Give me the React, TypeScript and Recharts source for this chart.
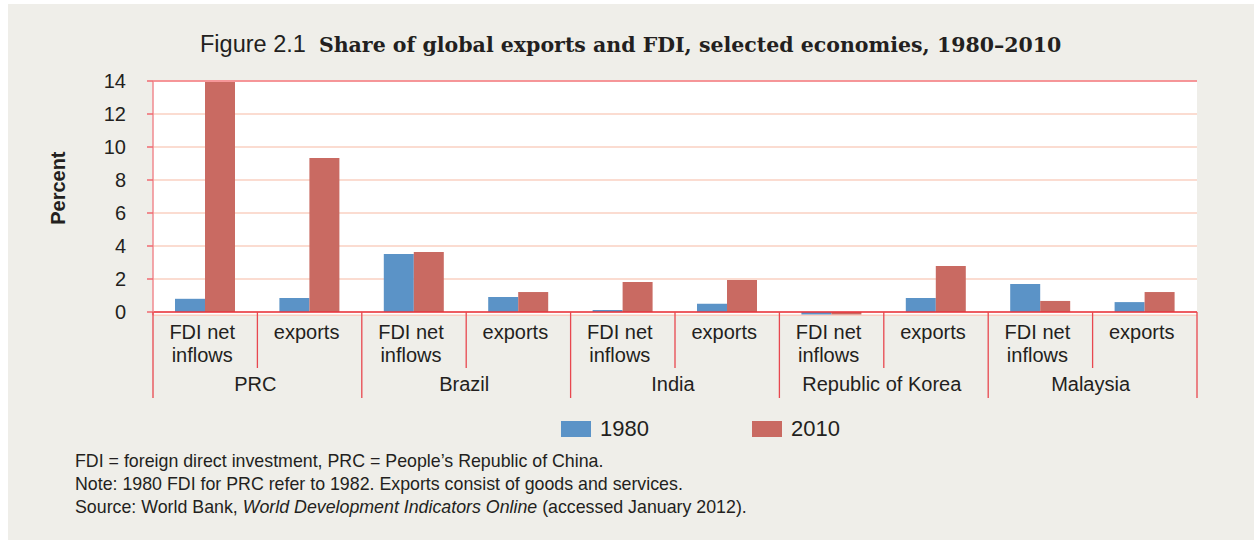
import React from 'react';
import { BarChart, Bar, XAxis, YAxis, CartesianGrid, Legend, ReferenceLine } from 'recharts';

const countries = ['PRC', 'Brazil', 'India', 'Republic of Korea', 'Malaysia'];
const measures = ['FDI net inflows', 'exports'];
const measureLines = [['FDI net', 'inflows'], ['exports']];
const values1980 = [0.8, 0.85, 3.52, 0.91, 0.12, 0.5, -0.15, 0.85, 1.7, 0.6];
const values2010 = [13.94, 9.33, 3.64, 1.21, 1.82, 1.94, -0.15, 2.79, 0.67, 1.21];
const yTicks = [0, 2, 4, 6, 8, 10, 12, 14];
const seriesNames = ['1980', '2010'];
const notes = [
  'FDI = foreign direct investment, PRC = People\u2019s Republic of China.',
  'Note: 1980 FDI for PRC refer to 1982. Exports consist of goods and services.',
];

const data = values1980.map((v, i) => ({
  key: countries[Math.floor(i / 2)] + '|' + measures[i % 2],
  country: countries[Math.floor(i / 2)],
  measure: measures[i % 2],
  v1980: v,
  v2010: values2010[i],
}));

const W = 1254;
const H = 540;
const Y_MIN = -0.2;
const Y_MAX = 14;
const PLOT_TOP = 81;
const PLOT_BOTTOM = 315.3;
const PX_PER_UNIT = (PLOT_BOTTOM - PLOT_TOP) / (Y_MAX - Y_MIN);
const ZERO_OFF = (0 - Y_MIN) * PX_PER_UNIT;

const FONT = '"Liberation Sans", Arial, sans-serif';
const TEXT = '#231f20';
const BLUE = '#5b93c7';
const RED = '#c96a62';
const SEP = '#e8474f';

const XTick = (props: any) => {
  const { x, y, index, payload } = props;
  const half = payload && payload.offset ? payload.offset : 52.2;
  const y0 = y - ZERO_OFF;
  const d = data[index];
  if (!d) return null;
  const lines = measureLines[index % 2];
  const isLast = index % 2 === 1;
  return (
    <g>
      {lines.map((l, k) => (
        <text key={k} x={x - 3} y={y0 + 27.3 + k * 22.4} textAnchor="middle" fontSize={20} fill={TEXT} fontFamily={FONT}>
          {l}
        </text>
      ))}
      <line x1={x + half} x2={x + half} y1={y0} y2={y0 + (isLast ? 86 : 56)} stroke={SEP} strokeWidth={1.3} />
      {index === 0 && <line x1={x - half} x2={x - half} y1={y0} y2={y0 + 86} stroke={SEP} strokeWidth={1.3} />}
      {isLast && (
        <text x={x - half - 2} y={y0 + 78.7} textAnchor="middle" fontSize={20} fill={TEXT} fontFamily={FONT}>
          {d.country}
        </text>
      )}
    </g>
  );
};

const renderLegend = (props: any) => {
  const payload = props.payload || [];
  return (
    <div style={{ display: 'flex', alignItems: 'center', fontFamily: FONT }}>
      {payload.map((p: any, i: number) => (
        <div key={i} style={{ display: 'flex', alignItems: 'center', marginRight: i === 0 ? 103 : 0 }}>
          <div style={{ width: 30, height: 16, background: p.color, marginRight: 9 }} />
          <span style={{ fontSize: 22, color: TEXT, lineHeight: '24px' }}>{p.value}</span>
        </div>
      ))}
    </div>
  );
};

const PercentLabel = (props: any) => {
  const vb = props.viewBox || { x: 0, y: 0, width: 0, height: 0 };
  const cx = 58.5;
  const cy = vb.y + vb.height / 2 - 10;
  return (
    <text
      x={cx}
      y={cy}
      transform={`rotate(-90, ${cx}, ${cy})`}
      textAnchor="middle"
      dominantBaseline="central"
      fontSize={20}
      fontWeight="bold"
      fill={TEXT}
      fontFamily={FONT}
    >
      Percent
    </text>
  );
};

export default function App() {
  return (
    <div style={{ position: 'absolute', left: 0, top: 0, width: W, height: H, background: '#fff' }}>
      <div style={{ position: 'absolute', left: 8, top: 4, width: W - 8, height: H - 4, background: '#efeee9' }} />
      <div
        style={{
          position: 'absolute',
          left: 200,
          top: 30,
          whiteSpace: 'nowrap',
          color: TEXT,
          fontSize: 23.5,
          lineHeight: '28px',
        }}
      >
        <span style={{ fontFamily: FONT }}>Figure 2.1&nbsp;&nbsp;</span>
        <span style={{ fontFamily: '"DejaVu Serif", serif', fontWeight: 'bold', fontSize: 20.5 }}>
          Share of global exports and FDI, selected economies, 1980–2010
        </span>
      </div>
      <div style={{ position: 'absolute', left: 0, top: 0 }}>
        <BarChart
          width={W}
          height={H}
          data={data}
          margin={{ top: PLOT_TOP, right: 57, bottom: 124.7, left: 30 }}
          barGap={0}
          barSize={30}
        >
          <CartesianGrid vertical={false} stroke="#fad0c2" strokeWidth={1.5} fill="#ffffff" />
          <XAxis
            dataKey="key"
            interval={0}
            axisLine={false}
            tickLine={false}
            tickSize={0}
            tickMargin={0}
            height={100}
            tick={<XTick />}
          />
          <YAxis
            domain={[Y_MIN, Y_MAX]}
            ticks={yTicks}
            width={123}
            tickSize={6}
            tickMargin={21}
            tick={{ fontSize: 20, fill: TEXT, fontFamily: FONT }}
            axisLine={{ stroke: '#f08a8f', strokeWidth: 1.5 }}
            tickLine={{ stroke: '#f06a70', strokeWidth: 1.5 }}
            label={<PercentLabel />}
          />
          <YAxis
            yAxisId="r"
            orientation="right"
            domain={[Y_MIN, Y_MAX]}
            ticks={yTicks}
            width={0}
            tick={false}
            tickLine={false}
            axisLine={{ stroke: SEP, strokeWidth: 1.3 }}
          />
          <ReferenceLine y={14} stroke="#f47f86" strokeWidth={1.5} />
          <Bar dataKey="v1980" name={seriesNames[0]} fill={BLUE} isAnimationActive={false} />
          <Bar dataKey="v2010" name={seriesNames[1]} fill={RED} isAnimationActive={false} />
          <ReferenceLine y={0} stroke="#e8333c" strokeWidth={1.5} />
          <Legend
            layout="vertical"
            verticalAlign="middle"
            align="center"
            wrapperStyle={{ left: 561, top: 417, width: 'auto' }}
            content={renderLegend}
          />
        </BarChart>
      </div>
      <div
        style={{
          position: 'absolute',
          left: 75,
          top: 450,
          color: TEXT,
          fontFamily: FONT,
          fontSize: 17.8,
          lineHeight: '23px',
          whiteSpace: 'nowrap',
        }}
      >
        <div>{notes[0]}</div>
        <div>{notes[1]}</div>
        <div>
          Source: World Bank, <i>World Development Indicators Online</i> (accessed January 2012).
        </div>
      </div>
    </div>
  );
}
